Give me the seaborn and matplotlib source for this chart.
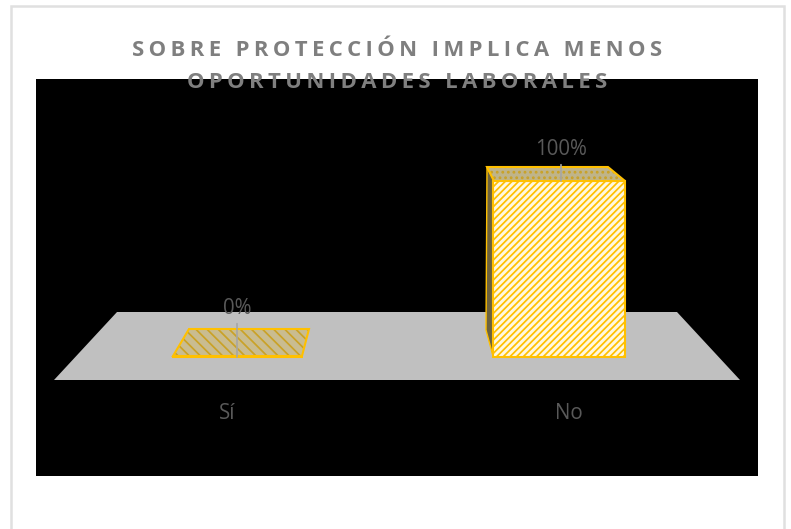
import matplotlib
matplotlib.use("Agg")
import matplotlib.pyplot as plt
from matplotlib.patches import Polygon, Rectangle
import pandas as pd
import seaborn as sns

categories = ["Sí", "No"]
values = [0, 100]
value_labels = ["0%", "100%"]
title_lines = ["SOBRE PROTECCIÓN IMPLICA MENOS", "OPORTUNIDADES LABORALES"]

W, H = 791, 529
AX_L, AX_R, AX_T, AX_B = 36, 758, 79, 476
X0, DX = 238.0, 321.0      # pixel centre of first bar, pixel spacing
Y0, PY = 356.5, 1.755      # pixel of value 0, pixels per unit
TEXT = "#595959"
GOLD = "#FFC000"

sns.set_theme(style="white")
plt.rcParams["font.family"] = ["Open Sans", "DejaVu Sans"]
plt.rcParams["hatch.linewidth"] = 1.25

fig = plt.figure(figsize=(W / 100, H / 100), dpi=100, facecolor="white")
ax = fig.add_axes([AX_L / W, 1 - AX_B / H, (AX_R - AX_L) / W, (AX_B - AX_T) / H])
ax.set_facecolor("black")
for s in ax.spines.values():
    s.set_visible(False)

def px(x, y):
    return ((x - X0) / DX, (Y0 - y) / PY)

fig.add_artist(Rectangle((10.5 / W, -0.1), (784 - 10.5) / W, 1.1 - 6 / H, transform=fig.transFigure,
                         fill=False, edgecolor="#e0e0e0", linewidth=1.8, zorder=-1))

df = pd.DataFrame({"cat": categories, "val": values})
sns.barplot(data=df, x="cat", y="val", ax=ax, width=131 / DX, color="#FFF8E0",
            saturation=1, edgecolor=GOLD, linewidth=1.5, hatch="/////", zorder=4)
ax.set_xlim(px(AX_L, 0)[0], px(AX_R, 0)[0])
ax.set_ylim(px(0, AX_B)[1], px(0, AX_T)[1])

# floor
ax.add_patch(Polygon([px(54, 380), px(740, 380), px(677, 312), px(117, 312)],
                     facecolor="#C0C0C0", edgecolor="none", zorder=1))
# zero-height bar, seen as its top face
zero = [px(173, 356), px(302, 356), px(309, 329), px(189, 329)]
ax.add_patch(Polygon(zero, facecolor="#C9BC90", edgecolor="#C9A227", linewidth=0, hatch="\\\\\\", zorder=2))
ax.add_patch(Polygon(zero, fill=False, edgecolor=GOLD, linewidth=1.5, zorder=3))
# sides of the full bar
ax.add_patch(Polygon([px(487, 167), px(494, 181), px(493, 356), px(486, 330)],
                     facecolor="#6B6240", edgecolor=GOLD, linewidth=1.0, zorder=3))
top = [px(487, 167), px(608, 167), px(625, 181), px(494, 181)]
ax.add_patch(Polygon(top, facecolor="#BFB48A", edgecolor="#C9A227", linewidth=0, hatch="...", zorder=3))
ax.add_patch(Polygon(top, fill=False, edgecolor=GOLD, linewidth=1.5, zorder=5))

# data labels with leader lines
label_cfg = [(px(237, 357), (237, 314)), (px(561, 181), (561, 155))]
for lab, (xy, (tx, ty)) in zip(value_labels, label_cfg):
    ax.annotate(lab, xy=xy, xytext=px(tx, ty), textcoords="data", ha="center", va="baseline",
                color=TEXT, fontsize=14.8, zorder=7,
                arrowprops=dict(arrowstyle="-", color="#A6A6A6", lw=1.2, shrinkA=1, shrinkB=0))

# category labels
ax.set_xticks([px(227, 0)[0], px(569, 0)[0]], labels=categories)
ax.set_yticks([])
ax.set_xlabel("")
ax.set_ylabel("")
ax.tick_params(axis="x", length=0, pad=-(AX_B - 403) * 0.72, labelsize=14.8, labelcolor=TEXT)

sp = "\u2009"
spaced = "\n".join(sp.join(l) for l in title_lines)
ax.set_title(spaced, y=1.0, pad=-6.5, fontsize=15.9, fontweight="bold", color="#7F7F7F",
             va="baseline", linespacing=1.68, zorder=8)

fig.savefig("out.png", dpi=100, facecolor="white")
